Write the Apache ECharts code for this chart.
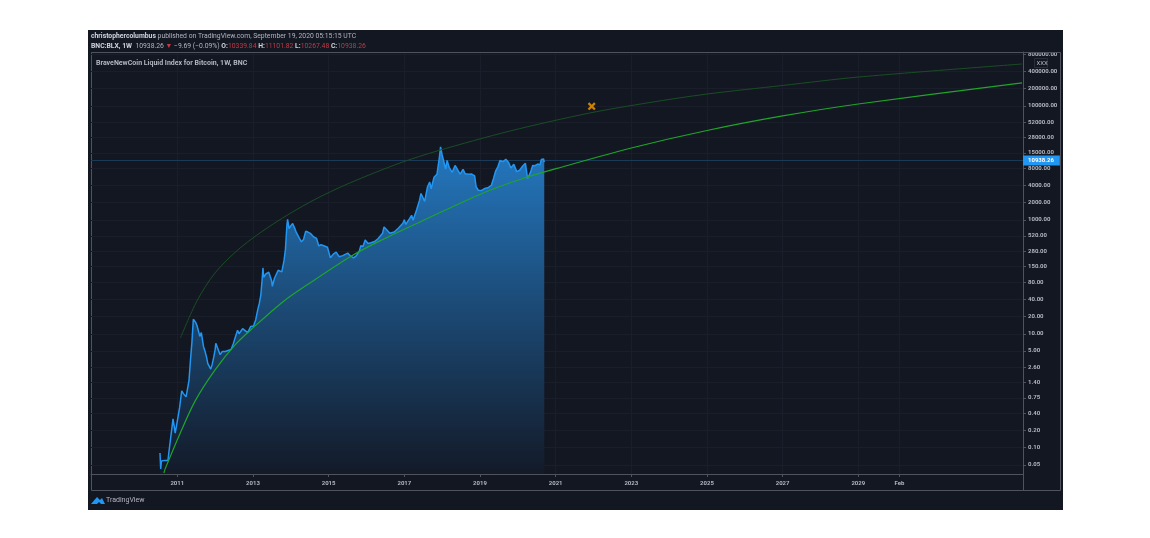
<!DOCTYPE html>
<html><head><meta charset="utf-8">
<style>html,body{margin:0;padding:0;background:#fff}#c{width:1150px;height:538px}</style>
<script src="https://cdn.jsdelivr.net/npm/echarts@6/dist/echarts.min.js"></script>
</head><body><div id="c"></div>
<script>
const priceDates = ['2010-07-18','2010-07-25','2010-08-01','2010-08-15','2010-09-01','2010-09-15','2010-10-03','2010-10-17','2010-11-07','2010-11-21','2010-12-12',
'2011-01-02','2011-01-23','2011-02-13','2011-02-27','2011-03-13','2011-03-27','2011-04-10','2011-04-24','2011-05-08','2011-05-22','2011-06-05','2011-06-12','2011-06-26','2011-07-10','2011-07-24','2011-08-07','2011-08-21','2011-09-11','2011-09-25','2011-10-09','2011-10-23','2011-11-06','2011-11-20','2011-12-04','2011-12-18',
'2012-01-01','2012-01-08','2012-01-22','2012-02-05','2012-02-19','2012-03-11','2012-04-08','2012-05-06','2012-06-03','2012-06-24','2012-07-15','2012-08-05','2012-08-19','2012-09-02','2012-09-23','2012-10-14','2012-11-11','2012-12-09',
'2013-01-06','2013-01-27','2013-02-17','2013-03-03','2013-03-17','2013-03-31','2013-04-07','2013-04-14','2013-05-05','2013-06-02','2013-06-30','2013-07-07','2013-07-28','2013-09-01','2013-10-06','2013-10-27','2013-11-10','2013-11-24','2013-12-01','2013-12-15','2013-12-29',
'2014-01-19','2014-02-09','2014-02-23','2014-03-23','2014-04-13','2014-05-04','2014-05-25','2014-06-15','2014-07-13','2014-08-10','2014-09-07','2014-09-28','2014-10-19','2014-11-16','2014-12-21',
'2015-01-18','2015-02-15','2015-03-15','2015-04-12','2015-05-17','2015-07-05','2015-08-02','2015-08-30','2015-09-27','2015-10-25','2015-11-08','2015-11-29','2015-12-20',
'2016-01-17','2016-02-14','2016-03-20','2016-04-24','2016-06-05','2016-06-19','2016-07-17','2016-08-14','2016-09-25','2016-11-06','2016-12-18',
'2017-01-01','2017-01-15','2017-02-19','2017-03-12','2017-03-26','2017-04-30','2017-05-28','2017-06-11','2017-07-16','2017-08-13','2017-09-03','2017-09-17','2017-10-15','2017-11-12','2017-12-03','2017-12-17','2017-12-31',
'2018-01-14','2018-02-04','2018-02-18','2018-03-11','2018-04-08','2018-05-06','2018-06-24','2018-07-22','2018-08-12','2018-09-16','2018-10-14','2018-11-11','2018-11-25','2018-12-16',
'2019-01-13','2019-02-17','2019-03-24','2019-04-21','2019-05-12','2019-06-02','2019-06-23','2019-07-14','2019-08-11','2019-09-08','2019-10-06','2019-10-27','2019-11-24','2019-12-22',
'2020-01-19','2020-02-16','2020-03-15','2020-04-05','2020-05-03','2020-05-24','2020-06-14','2020-07-12','2020-08-02','2020-08-16','2020-09-06','2020-09-13'];
const priceValues = [0.081,0.0426,0.0587,0.0587,0.06,0.059,0.06,0.099,0.2,0.32,0.18,
0.3,0.5,1.0,0.9,0.85,0.78,0.8,1.5,3.4,7,18,19,16,14,13.5,9,10.5,6,5,4,3,3,2.4,2.9,3.8,
5.2,6.8,6.3,5,4.3,4.9,4.9,5.1,5.3,6.6,8.8,11.5,10,10.7,12.3,11.5,10.5,13.4,
13.7,17.5,27,34,47,93,143,98,112,120,85,68,95,130,122,190,300,780,1020,700,770,
860,700,600,480,410,450,630,610,570,500,470,348,365,350,330,
215,250,270,225,235,260,230,215,235,285,350,340,440,
385,395,415,470,580,750,660,580,610,720,870,
1000,830,1040,1200,980,1500,2200,2900,2100,3800,4600,3500,5600,6300,11500,19000,14000,
13500,7800,11000,8200,6800,9000,6300,7700,6400,6300,6350,5900,3800,3300,3250,
3550,3700,4000,5300,7200,8500,11000,10500,11500,10000,8100,9400,7000,7400,
8700,9800,5300,6800,9000,8900,9500,9200,11400,11700,10300,10938.26];

const lowerDates = ['2010-08-25','2010-09-06','2011-01-30','2011-06-23','2012-01-01','2012-07-12','2013-01-01','2013-10-15','2014-07-05','2015-07-25','2016-05-10','2017-06-01','2019-02-01','2020-02-20','2021-02-15','2023-01-01','2025-01-01','2027-01-01','2029-01-01','2033-05-01'];
const lowerValues = [0.036,0.0426,0.182,0.664,2.32,6.37,12.7,36.2,78,223,426,916,2958,5310,8280,18200,36900,66400,107700,251800];
const upperDates = ['2011-02-01','2011-07-10','2012-01-01','2012-08-30','2013-07-15','2014-07-25','2015-07-25','2016-11-20','2017-11-15','2019-10-20','2021-11-25','2023-07-01','2025-01-01','2027-01-01','2029-01-01','2033-05-01'];
const upperValues = [8.45,37.7,117,321,845,2143,4430,9930,16140,36200,74800,114500,161000,227500,320000,542000];
const markDate = '2021-12-15';
const markValue = 98000;
const lastPrice = 10938.26;

const yTicks = [0.05,0.1,0.2,0.4,0.75,1.4,2.6,5,10,20,40,80,150,280,520,1000,2000,4000,8000,15000,28000,52000,100000,200000,400000,800000];
const xTicks = ['2011-01-01','2013-01-01','2015-01-01','2017-01-01','2019-01-01','2021-01-01','2023-01-01','2025-01-01','2027-01-01','2029-01-01','2030-02-01'];
const xTickLabels = ['2011','2013','2015','2017','2019','2021','2023','2025','2027','2029','Feb'];

const ms = d=>Date.parse(d+'T00:00:00Z');
const zip = (a,b)=>a.map((d,i)=>[ms(d),b[i]]);
const xMs = xTicks.map(ms);
const font = 'Roboto, "Open Sans", sans-serif';
const grey='#b2b5be', border='#50535e';

const chart = echarts.init(document.getElementById('c'), null, {renderer:'canvas'});
chart.setOption({
  animation:false, backgroundColor:'#ffffff',
  grid:{left:91,right:127,top:52,bottom:64,containLabel:false},
  xAxis:{type:'value',min:ms('2008-09-20'),max:ms('2033-05-10'),
    axisLine:{show:true,onZero:false,lineStyle:{color:border}},
    axisTick:{show:true,length:3,lineStyle:{color:border},customValues:xMs},
    axisLabel:{color:grey,fontSize:6,fontWeight:'bold',fontFamily:font,margin:6,customValues:xMs,showMinLabel:true,showMaxLabel:true,hideOverlap:false,
      formatter:v=>{const i=xMs.indexOf(+v);return i>=0?xTickLabels[i]:'';}},
    splitLine:{show:true,lineStyle:{color:'#1a1e2b',width:1}}},
  yAxis:{type:'log',logBase:10,min:0.0346,max:880000,position:'right',
    axisLine:{show:true,lineStyle:{color:border}},
    axisTick:{show:true,length:3,lineStyle:{color:border},customValues:yTicks},
    axisLabel:{color:grey,fontSize:6,fontWeight:'bold',fontFamily:font,margin:5,customValues:yTicks,showMinLabel:true,showMaxLabel:true,hideOverlap:false,
      formatter:v=>Number(v).toFixed(2)},
    splitLine:{show:true,lineStyle:{color:'#1a1e2b',width:1}}},
  series:[
    {type:'line',name:'Price',data:zip(priceDates,priceValues),symbol:'none',z:3,
      lineStyle:{color:'#2196f3',width:1.5},
      areaStyle:{origin:'start',opacity:1,color:new echarts.graphic.LinearGradient(0,0,0,1,[{offset:0,color:'#2478c0'},{offset:1,color:'#131a28'}])},
      markLine:{silent:true,symbol:'none',precision:2,z:2,
        lineStyle:{color:'#1b3a57',width:1,type:'solid',opacity:1},
        emphasis:{disabled:true},
        label:{show:true,position:'end',distance:0,formatter:()=>lastPrice.toFixed(2),color:'#fff',backgroundColor:'#2196f3',fontSize:6,fontWeight:'bold',fontFamily:font,padding:[2,6,2,5]},
        data:[{yAxis:lastPrice,lineStyle:{color:'#1b3a57',width:1,type:'solid',opacity:1}}]}},
    {type:'line',name:'Lower',data:zip(lowerDates,lowerValues),symbol:'none',smooth:0.3,z:5,lineStyle:{color:'#1fa52b',width:1.2}},
    {type:'line',name:'Upper',data:zip(upperDates,upperValues),symbol:'none',smooth:0.3,z:5,lineStyle:{color:'#1a4d25',width:1}},
    {type:'scatter',name:'Mark',data:[[ms(markDate),markValue]],z:6,symbol:'path://M2 0 L5 3 L8 0 L10 2 L7 5 L10 8 L8 10 L5 7 L2 10 L0 8 L3 5 L0 2 Z',symbolSize:8,itemStyle:{color:'#f59f00'}}
  ],
  graphic:[
    {type:'rect',z:-100,shape:{x:88,y:30,width:975,height:480},style:{fill:'#131722'},silent:true},
    {type:'rect',z:-100,shape:{x:91.5,y:52.5,width:969,height:438},style:{fill:'none',stroke:border,lineWidth:1},silent:true},
    {type:'rect',z:50,shape:{x:1024,y:38,width:38,height:14},style:{fill:'#131722'},silent:true},
    {type:'line',z:50,shape:{x1:91.5,y1:52.5,x2:1060.5,y2:52.5},style:{stroke:border,lineWidth:1},silent:true},
    {type:'line',z:50,shape:{x1:1023.5,y1:474,x2:1023.5,y2:490},style:{stroke:border,lineWidth:1},silent:true},
    {type:'text',z:60,x:91,y:33,style:{font:'6.8px '+font,fill:grey,
      text:'{b|christophercolumbus} published on TradingView.com, September 19, 2020 05:15:15 UTC',
      rich:{b:{fontWeight:'bold',fontSize:6.8,fontFamily:font,fill:'#d1d4dc'}}}},
    {type:'text',z:60,x:91,y:43,style:{font:'6.8px '+font,fill:grey,
      text:'{b|BNC:BLX, 1W}  10938.26 {r|\u25BC} \u22129.69 (\u22120.09%) {b|O:}{r|10339.84} {b|H:}{r|11101.82} {b|L:}{r|10267.48} {b|C:}{r|10938.26}',
      rich:{b:{fontWeight:'bold',fontSize:6.8,fontFamily:font,fill:'#d1d4dc'},r:{fontSize:6.8,fontFamily:font,fill:'#c23b45'}}}},
    {type:'text',z:60,x:96,y:60,style:{text:'BraveNewCoin Liquid Index for Bitcoin, 1W, BNC',font:'bold 7px '+font,fill:grey}},
    {type:'rect',z:60,shape:{x:1034.5,y:58.5,width:13,height:9},style:{fill:'#131722',stroke:'#2a2e39',lineWidth:1},silent:true},
    {type:'text',z:61,x:1036.5,y:60,style:{text:'XXX',font:'6px '+font,fill:grey}},
    {type:'polygon',z:60,shape:{points:[[91,504],[97,497],[100,500],[102,498],[105,504],[101,504],[99,502],[97,504]]},style:{fill:'#2196f3'},silent:true},
    {type:'text',z:60,x:106,y:496.5,style:{text:'TradingView',font:'7px '+font,fill:grey}}
  ]
});
</script></body></html>
